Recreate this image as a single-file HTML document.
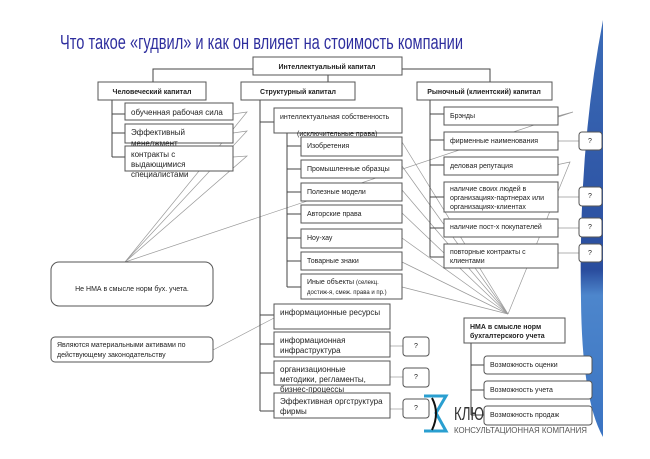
<!DOCTYPE html>
<html><head><meta charset="utf-8"><style>
html,body{margin:0;padding:0;background:#fff}
svg{display:block}
text{font-family:"Liberation Sans","DejaVu Sans",sans-serif;fill:#222}
.b{fill:#fff;stroke:#555;stroke-width:1}
.l{stroke:#444;stroke-width:1;fill:none}
.g{stroke:#999;stroke-width:0.7;fill:none}
.t{font-size:7px}
.h{font-size:7px;font-weight:bold}
.m{font-size:8px}
</style></head><body>
<svg width="650" height="459" viewBox="0 0 650 459" xmlns="http://www.w3.org/2000/svg">
<defs>
<linearGradient id="bl" x1="0" y1="0" x2="0" y2="1">
<stop offset="0" stop-color="#3b6cb8"/><stop offset="0.6" stop-color="#2a4d9e"/><stop offset="0.66" stop-color="#4d86cc"/><stop offset="1" stop-color="#3a73c2"/>
</linearGradient>
</defs>
<path d="M603 20 Q578 150 581 300 Q582 400 603 437 Z" fill="url(#bl)"/>
<text x="60" y="49" font-size="20" style="fill:#2e2e9e" textLength="403" lengthAdjust="spacingAndGlyphs">Что такое «гудвил» и как он влияет на стоимость компании</text>

<!-- gray connector lines -->
<g class="g">
<polyline points="233,114 247,112 125,262"/>
<polyline points="233,133 247,131 125,262"/>
<polyline points="233,157 247,156 125,262"/>
<polyline points="558,116 573,112 125,262"/>
<polyline points="556,165 570,162 508,314"/>
<line x1="213" y1="350" x2="274" y2="318"/>
<line x1="402" y1="142" x2="508" y2="314"/>
<line x1="402" y1="166" x2="508" y2="314"/>
<line x1="402" y1="190" x2="508" y2="314"/>
<line x1="402" y1="213" x2="508" y2="314"/>
<line x1="402" y1="238" x2="508" y2="314"/>
<line x1="402" y1="262" x2="508" y2="314"/>
<line x1="402" y1="287" x2="508" y2="314"/>
<line x1="558" y1="141" x2="579" y2="141"/>
<line x1="558" y1="197" x2="579" y2="197"/>
<line x1="558" y1="228" x2="579" y2="228"/>
<line x1="558" y1="253" x2="579" y2="253"/>
<line x1="390" y1="346" x2="403" y2="346"/>
<line x1="390" y1="377" x2="403" y2="377"/>
<line x1="390" y1="409" x2="403" y2="409"/>
</g>

<!-- tree lines -->
<g class="l">
<polyline points="153,82 153,69 490,69 490,82"/>
<line x1="328" y1="75" x2="328" y2="82"/>
<line x1="112" y1="100" x2="112" y2="157"/>
<line x1="112" y1="114" x2="125" y2="114"/><line x1="112" y1="133" x2="125" y2="133"/><line x1="112" y1="157" x2="125" y2="157"/>
<line x1="260" y1="100" x2="260" y2="411"/>
<line x1="260" y1="122" x2="274" y2="122"/>
<line x1="260" y1="315" x2="274" y2="315"/><line x1="260" y1="344" x2="274" y2="344"/><line x1="260" y1="373" x2="274" y2="373"/><line x1="260" y1="411" x2="274" y2="411"/>
<line x1="287" y1="133" x2="287" y2="287"/>
<line x1="287" y1="146" x2="301" y2="146"/><line x1="287" y1="169" x2="301" y2="169"/><line x1="287" y1="192" x2="301" y2="192"/><line x1="287" y1="214" x2="301" y2="214"/><line x1="287" y1="238" x2="301" y2="238"/><line x1="287" y1="261" x2="301" y2="261"/><line x1="287" y1="287" x2="301" y2="287"/>
<line x1="430" y1="100" x2="430" y2="257"/>
<line x1="430" y1="114" x2="444" y2="114"/><line x1="430" y1="140" x2="444" y2="140"/><line x1="430" y1="165" x2="444" y2="165"/><line x1="430" y1="197" x2="444" y2="197"/><line x1="430" y1="228" x2="444" y2="228"/><line x1="430" y1="257" x2="444" y2="257"/>
<line x1="471" y1="343" x2="471" y2="415"/>
<line x1="471" y1="365" x2="484" y2="365"/><line x1="471" y1="390" x2="484" y2="390"/><line x1="471" y1="415" x2="484" y2="415"/>
</g>

<!-- headers -->
<rect class="b" x="253" y="57" width="149" height="18"/><text class="h" x="327" y="69" text-anchor="middle">Интеллектуальный капитал</text>
<rect class="b" x="98" y="82" width="108" height="18"/><text class="h" x="152" y="94" text-anchor="middle">Человеческий капитал</text>
<rect class="b" x="241" y="82" width="114" height="18"/><text class="h" x="298" y="94" text-anchor="middle">Структурный капитал</text>
<rect class="b" x="417" y="82" width="135" height="18"/><text class="h" x="484" y="94" text-anchor="middle">Рыночный (клиентский) капитал</text>

<!-- human -->
<rect class="b" x="125" y="103" width="108" height="17"/><text class="m" x="131" y="115">обученная рабочая сила</text>
<rect class="b" x="125" y="124" width="108" height="19"/><text class="m" x="131" y="135">Эффективный</text><text class="m" x="131" y="146">менеджмент</text>
<rect class="b" x="125" y="146" width="108" height="25"/><text class="m" x="131" y="157">контракты с</text><text class="m" x="131" y="167">выдающимися</text><text class="m" x="131" y="177">специалистами</text>

<!-- structural -->
<rect class="b" x="274" y="108" width="128" height="25"/><text class="t" x="280" y="119">интеллектуальная собственность</text><text class="t" x="297" y="136">(исключительные права)</text>
<rect class="b" x="301" y="137" width="101" height="19"/><text class="t" x="307" y="148">Изобретения</text>
<rect class="b" x="301" y="160" width="101" height="18"/><text class="t" x="307" y="171">Промышленные образцы</text>
<rect class="b" x="301" y="183" width="101" height="18"/><text class="t" x="307" y="194">Полезные модели</text>
<rect class="b" x="301" y="205" width="101" height="18"/><text class="t" x="307" y="216">Авторские права</text>
<rect class="b" x="301" y="229" width="101" height="19"/><text class="t" x="307" y="240">Ноу-хау</text>
<rect class="b" x="301" y="252" width="101" height="18"/><text class="t" x="307" y="263">Товарные знаки</text>
<rect class="b" x="301" y="274" width="101" height="25"/><text class="t" x="307" y="284">Иные объекты <tspan font-size="6">(селекц.</tspan></text><text x="307" y="294" font-size="6">достиж-я, смеж. права и пр.)</text>
<rect class="b" x="274" y="304" width="116" height="25"/><text class="m" x="280" y="315">информационные ресурсы</text>
<rect class="b" x="274" y="332" width="116" height="25"/><text class="m" x="280" y="343">информационная</text><text class="m" x="280" y="353">инфраструктура</text>
<rect class="b" x="274" y="361" width="116" height="24"/><text class="m" x="280" y="372">организационные</text><text class="m" x="280" y="382">методики, регламенты,</text><text class="m" x="280" y="392">бизнес-процессы</text>
<rect class="b" x="274" y="393" width="116" height="25"/><text class="m" x="280" y="404">Эффективная оргструктура</text><text class="m" x="280" y="414">фирмы</text>
<rect class="b" x="403" y="337" width="26" height="19" rx="3"/><text class="t" x="416" y="348" text-anchor="middle">?</text>
<rect class="b" x="403" y="368" width="26" height="19" rx="3"/><text class="t" x="416" y="379" text-anchor="middle">?</text>
<rect class="b" x="403" y="399" width="26" height="19" rx="3"/><text class="t" x="416" y="410" text-anchor="middle">?</text>

<!-- market -->
<rect class="b" x="444" y="107" width="114" height="18"/><text class="t" x="450" y="118">Брэнды</text>
<rect class="b" x="444" y="132" width="114" height="18"/><text class="t" x="450" y="143">фирменные наименования</text>
<rect class="b" x="444" y="157" width="114" height="18"/><text class="t" x="450" y="168">деловая репутация</text>
<rect class="b" x="444" y="182" width="114" height="30"/><text class="t" x="450" y="191">наличие своих людей в</text><text class="t" x="450" y="200">организациях-партнерах или</text><text class="t" x="450" y="209">организациях-клиентах</text>
<rect class="b" x="444" y="219" width="114" height="18"/><text class="t" x="450" y="229">наличие пост-х покупателей</text>
<rect class="b" x="444" y="244" width="114" height="24"/><text class="t" x="450" y="254">повторные контракты с</text><text class="t" x="450" y="263">клиентами</text>
<rect class="b" x="579" y="132" width="23" height="18" rx="3"/><text class="t" x="590" y="143" text-anchor="middle">?</text>
<rect class="b" x="579" y="187" width="23" height="19" rx="3"/><text class="t" x="590" y="198" text-anchor="middle">?</text>
<rect class="b" x="579" y="218" width="23" height="19" rx="3"/><text class="t" x="590" y="229" text-anchor="middle">?</text>
<rect class="b" x="579" y="244" width="23" height="18" rx="3"/><text class="t" x="590" y="255" text-anchor="middle">?</text>

<!-- left notes -->
<rect class="b" x="51" y="262" width="162" height="44" rx="8"/><text class="t" x="132" y="291" text-anchor="middle">Не НМА в смысле норм бух. учета.</text>
<rect class="b" x="51" y="337" width="162" height="25" rx="4"/><text class="t" x="57" y="347">Являются материальными активами по</text><text class="t" x="57" y="357">действующему законодательству</text>

<!-- logo -->
<path d="M424 396 L446 396 L436 413 L446 431 L424 431" fill="none" stroke="#2a9fd0" stroke-width="3"/>
<path d="M432 398 Q440 413 432 430" fill="none" stroke="#111" stroke-width="2"/>
<text x="454" y="420" font-size="18" style="fill:#333" textLength="30" lengthAdjust="spacingAndGlyphs">КЛЮ</text>
<text x="454" y="433" font-size="8.5" style="fill:#555" textLength="133" lengthAdjust="spacingAndGlyphs">КОНСУЛЬТАЦИОННАЯ КОМПАНИЯ</text>

<!-- NMA -->
<rect class="b" x="464" y="318" width="101" height="25"/><text class="h" x="470" y="329">НМА в смысле  норм</text><text class="h" x="470" y="338">бухгалтерского учета</text>
<rect class="b" x="484" y="356" width="108" height="18" rx="3"/><text class="t" x="490" y="367">Возможность оценки</text>
<rect class="b" x="484" y="381" width="108" height="18" rx="3"/><text class="t" x="490" y="392">Возможность учета</text>
<rect class="b" x="484" y="406" width="108" height="19" rx="3"/><text class="t" x="490" y="417">Возможность продаж</text>
</svg>
</body></html>
